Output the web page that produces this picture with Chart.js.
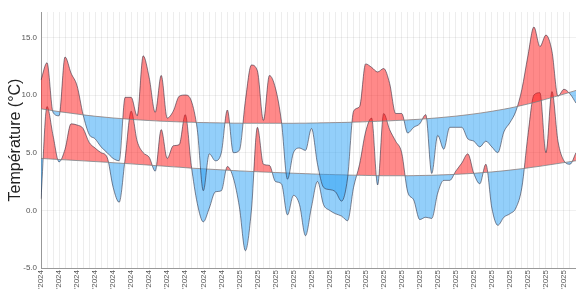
<!DOCTYPE html>
<html>
<head>
<meta charset="utf-8">
<script src="https://cdn.jsdelivr.net/npm/chart.js@4/dist/chart.umd.min.js"></script>
<style>
  html, body { margin: 0; padding: 0; background: #fff; }
  #wrap { width: 576px; height: 289px; position: relative; }
</style>
</head>
<body>
<div id="wrap"><canvas id="c" width="576" height="289"></canvas></div>
<script>
// Tick labels (one every 3 weekly points)
const tickLabels = ["'2024","'2024","'2024","'2024","'2024","'2024","'2024","'2024","'2024","'2024","'2024",
  "'2025","'2025","'2025","'2025","'2025","'2025","'2025","'2025","'2025","'2025","'2025","'2025","'2025","'2025","'2025","'2025","'2025","'2025","'2025"];

// Upper series (max temperature) and its seasonal normal
const tmax = [11.3,12.8,8.5,8.2,13.3,11.9,10.8,8.3,6.6,6.2,
  5.5,5.0,4.5,4.3,9.8,9.8,8.2,13.4,11.5,8.5,
  11.7,8.0,8.6,9.9,10.0,9.5,7.0,1.7,4.9,4.3,
  5.0,8.7,5.0,5.2,9.5,12.6,12.1,7.8,11.7,10.6,
  7.7,2.7,5.0,5.4,5.2,7.1,4.0,2.0,1.8,1.6,
  0.8,2.8,8.6,9.0,12.7,12.4,12.0,12.3,11.0,8.4,
  8.4,6.7,7.2,7.5,8.3,3.2,6.5,5.3,7.2,7.2,
  7.2,6.2,6.0,5.5,6.0,5.5,5.0,6.8,7.6,8.6,
  10.5,13.4,15.9,14.2,15.2,13.8,9.9,10.5,10.1,9.3];
const tmaxNormal = [8.80,8.72,8.64,8.56,8.49,8.42,8.35,8.28,8.22,8.16,
  8.11,8.06,8.01,7.97,7.93,7.89,7.85,7.82,7.79,7.76,
  7.73,7.71,7.69,7.67,7.65,7.64,7.62,7.61,7.60,7.59,
  7.58,7.57,7.56,7.56,7.55,7.55,7.55,7.55,7.55,7.55,
  7.55,7.55,7.55,7.56,7.56,7.57,7.58,7.59,7.60,7.61,
  7.62,7.63,7.65,7.66,7.68,7.70,7.72,7.74,7.76,7.79,
  7.81,7.84,7.87,7.90,7.94,7.98,8.02,8.07,8.12,8.17,
  8.23,8.29,8.36,8.43,8.51,8.59,8.68,8.77,8.87,8.98,
  9.10,9.22,9.35,9.49,9.64,9.78,9.93,10.08,10.24,10.40];

// Lower series (min temperature) and its seasonal normal
const tmin = [1.0,9.0,6.5,4.2,5.3,7.5,7.4,7.1,5.9,5.4,
  5.0,4.6,2.0,0.7,4.5,8.6,6.0,5.0,4.6,3.4,
  7.0,4.5,5.6,5.7,8.3,3.9,0.6,-1.0,0.2,1.6,
  1.7,3.8,2.8,0.3,-3.5,0.0,7.2,4.0,3.9,2.5,
  2.3,-0.4,1.3,0.5,-2.2,0.3,2.5,0.5,0.0,-0.3,
  -0.5,-0.9,2.0,4.0,6.8,8.0,2.2,8.4,7.0,6.0,
  5.0,1.6,0.9,-0.8,-0.6,-0.7,1.5,2.6,2.6,3.4,
  4.1,4.9,3.2,2.3,4.0,0.2,-1.3,-0.6,-0.3,0.2,
  2.0,6.5,10.0,10.2,5.0,10.3,6.0,4.3,4.0,5.0];
const tminNormal = [4.50,4.47,4.44,4.41,4.38,4.35,4.32,4.29,4.26,4.23,
  4.20,4.17,4.13,4.10,4.06,4.03,3.99,3.96,3.92,3.88,
  3.85,3.81,3.77,3.74,3.70,3.66,3.63,3.60,3.57,3.54,
  3.51,3.48,3.45,3.42,3.40,3.37,3.35,3.32,3.30,3.28,
  3.26,3.24,3.22,3.20,3.18,3.16,3.14,3.12,3.11,3.09,
  3.08,3.06,3.05,3.04,3.03,3.02,3.01,3.00,3.00,3.00,
  3.00,3.00,3.01,3.02,3.03,3.04,3.06,3.08,3.10,3.12,
  3.15,3.18,3.21,3.25,3.29,3.33,3.38,3.43,3.49,3.55,
  3.61,3.68,3.75,3.82,3.90,3.98,4.06,4.14,4.22,4.30];

const yTicks = [-5, 0, 5, 10, 15];

const categories = tmax.map((_, i) => (i % 3 === 0 ? tickLabels[i / 3] : ''));

const RED = 'rgba(255, 20, 20, 0.5)';
const BLUE = 'rgba(40, 160, 245, 0.5)';
const SERIES_LINE = 'rgba(40, 40, 60, 0.8)';
const NORMAL_LINE = 'rgba(120, 120, 120, 0.9)';

const common = { pointRadius: 0, pointHoverRadius: 0, cubicInterpolationMode: 'monotone' };

new Chart(document.getElementById('c'), {
  type: 'line',
  data: {
    labels: categories,
    datasets: [
      Object.assign({ label: 'Normale max', data: tmaxNormal, borderColor: NORMAL_LINE, borderWidth: 0.8, fill: false }, common),
      Object.assign({ label: 'Max', data: tmax, borderColor: SERIES_LINE, borderWidth: 0.7,
        fill: { target: 0, above: RED, below: BLUE } }, common),
      Object.assign({ label: 'Normale min', data: tminNormal, borderColor: NORMAL_LINE, borderWidth: 0.8, fill: false }, common),
      Object.assign({ label: 'Min', data: tmin, borderColor: SERIES_LINE, borderWidth: 0.7,
        fill: { target: 2, above: RED, below: BLUE } }, common)
    ]
  },
  options: {
    responsive: false,
    animation: false,
    events: [],
    layout: { padding: { top: 12, right: 0, bottom: 0, left: 0 } },
    plugins: { legend: { display: false }, tooltip: { enabled: false } },
    scales: {
      x: {
        grid: { color: 'rgba(0,0,0,0.07)', lineWidth: 1, drawTicks: false },
        border: { color: '#999', width: 1 },
        ticks: {
          autoSkip: false, maxRotation: 90, minRotation: 90, padding: 2,
          font: { family: 'Liberation Sans, Arial, sans-serif', size: 8 }, color: '#555'
        },
        afterFit: (s) => { s.height = 21; s.paddingLeft = 0; s.paddingRight = 0; }
      },
      y: {
        min: -5, max: 17.2,
        afterBuildTicks: (s) => { s.ticks = yTicks.map(v => ({ value: v })); },
        grid: { color: 'rgba(0,0,0,0.06)', lineWidth: 1, drawTicks: false },
        border: { color: '#999', width: 1 },
        ticks: {
          padding: 4,
          callback: (v) => Number(v).toFixed(1),
          font: { family: 'Liberation Sans, Arial, sans-serif', size: 8 }, color: '#555'
        },
        title: {
          display: true, text: 'Température (°C)', color: '#222',
          font: { family: 'Liberation Sans, Arial, sans-serif', size: 16 },
          padding: { top: 6, bottom: 0 }
        },
        afterFit: (s) => { s.width = 41; s.paddingTop = 0; s.paddingBottom = 0; }
      }
    }
  }
});
</script>
</body>
</html>
